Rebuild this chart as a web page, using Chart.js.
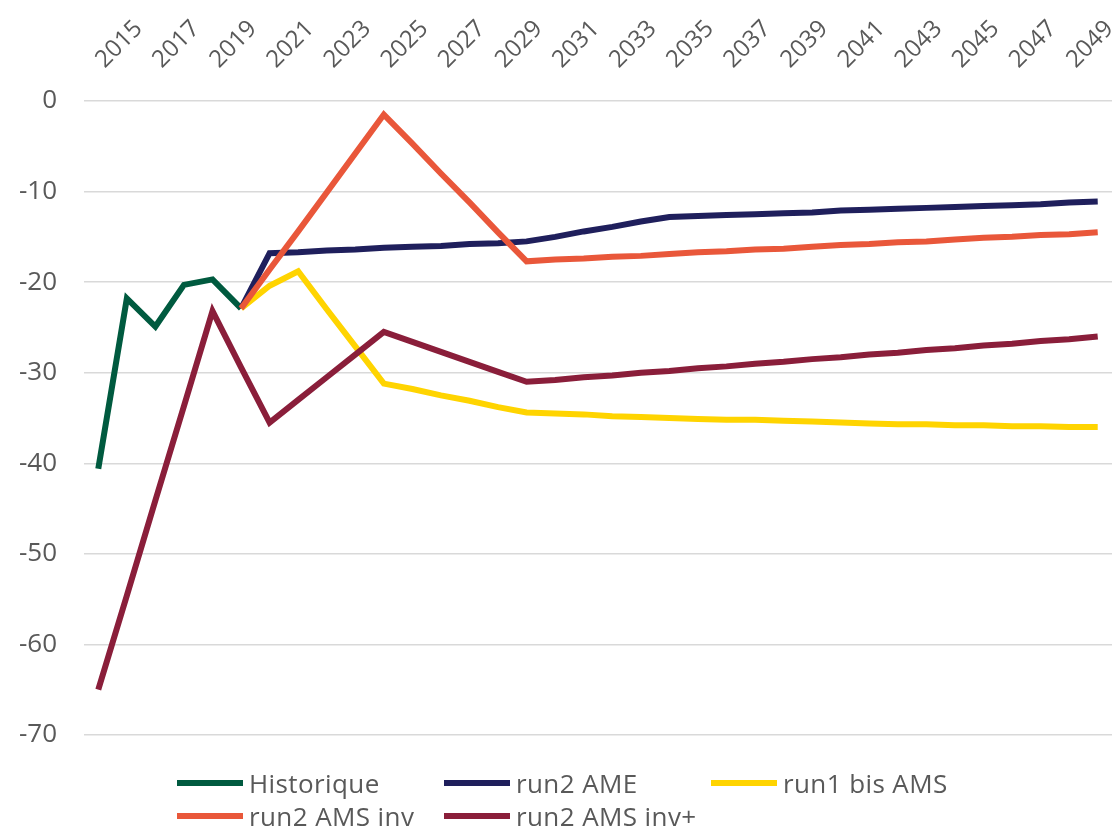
<!DOCTYPE html>
<html><head><meta charset="utf-8">
<script src="https://cdn.jsdelivr.net/npm/chart.js@4"></script>
<style>
html,body{margin:0;padding:0;background:#fff;overflow:hidden}
#wrap{position:relative;width:1117px;height:826px}
#c{position:absolute;left:0;top:0}
.lg{position:absolute;font-family:'Open Sans',sans-serif;font-size:26px;color:#595959;white-space:nowrap;display:flex;align-items:center;height:30px;line-height:30px;letter-spacing:0.4px}
.lg i{display:inline-block;width:66px;height:6px;margin-right:6px}
</style></head><body>
<div id="wrap"><canvas id="c" width="1117" height="826"></canvas><div id="legend"></div></div>
<script>
const years = [2015,2016,2017,2018,2019,2020,2021,2022,2023,2024,2025,2026,2027,2028,2029,2030,2031,2032,2033,2034,2035,2036,2037,2038,2039,2040,2041,2042,2043,2044,2045,2046,2047,2048,2049,2050];
const seriesNames = ['Historique','run2 AME','run1 bis AMS','run2 AMS inv','run2 AMS inv+'];
const historique = [-40.6,-21.8,-24.9,-20.3,-19.7,-22.9,null,null,null,null,null,null,null,null,null,null,null,null,null,null,null,null,null,null,null,null,null,null,null,null,null,null,null,null,null,null];
const run2AME = [null,null,null,null,null,-22.9,-16.8,-16.7,-16.5,-16.4,-16.2,-16.1,-16.0,-15.8,-15.7,-15.5,-15.0,-14.4,-13.9,-13.3,-12.8,-12.7,-12.6,-12.5,-12.4,-12.3,-12.1,-12.0,-11.9,-11.8,-11.7,-11.6,-11.5,-11.4,-11.2,-11.1];
const run1bisAMS = [null,null,null,null,null,-22.9,-20.4,-18.8,-23.0,-27.1,-31.2,-31.8,-32.5,-33.1,-33.8,-34.4,-34.5,-34.6,-34.8,-34.9,-35.0,-35.1,-35.2,-35.2,-35.3,-35.4,-35.5,-35.6,-35.7,-35.7,-35.8,-35.8,-35.9,-35.9,-36.0,-36.0];
const run2AMSinv = [null,null,null,null,null,-22.9,-18.6,-14.4,-10.1,-5.8,-1.5,-4.7,-8.0,-11.2,-14.5,-17.7,-17.5,-17.4,-17.2,-17.1,-16.9,-16.7,-16.6,-16.4,-16.3,-16.1,-15.9,-15.8,-15.6,-15.5,-15.3,-15.1,-15.0,-14.8,-14.7,-14.5];
const run2AMSinvPlus = [-65.0,-54.6,-44.1,-33.7,-23.2,-29.4,-35.5,-33.0,-30.5,-28.0,-25.5,-26.6,-27.7,-28.8,-29.9,-31.0,-30.8,-30.5,-30.3,-30.0,-29.8,-29.5,-29.3,-29.0,-28.8,-28.5,-28.3,-28.0,-27.8,-27.5,-27.3,-27.0,-26.8,-26.5,-26.3,-26.0];
const yTicks = [0,-10,-20,-30,-40,-50,-60,-70];

const colors = ['#005a3f','#1f1f5c','#ffd400','#e9573a','#8a1e3a'];
const allData = [historique, run2AME, run1bisAMS, run2AMSinv, run2AMSinvPlus];
const FONT = "'Open Sans', sans-serif";
const TXT = '#595959';

const datasets = allData.map((d, i) => ({
  label: seriesNames[i], data: d, borderColor: colors[i], backgroundColor: colors[i],
  borderWidth: 6, pointRadius: 0, tension: 0, fill: false, spanGaps: false,
  borderCapStyle: 'butt', borderJoinStyle: 'miter', order: allData.length - i, clip: false
}));

new Chart(document.getElementById('c'), {
  type: 'line',
  data: { labels: years.map(String), datasets },
  options: {
    responsive: false, animation: false, devicePixelRatio: 1,
    layout: { padding: { left: 0, right: 5, top: 0, bottom: 91 } },
    plugins: { legend: { display: false }, tooltip: { enabled: false } },
    scales: {
      x: {
        type: 'category', position: 'top', offset: true,
        grid: { display: false, drawTicks: false }, border: { display: false },
        ticks: {
          autoSkip: false, minRotation: 45, maxRotation: 45, padding: 27, labelOffset: 22,
          color: TXT, font: { family: FONT, size: 24 },
          callback: function(v, i) { return i % 2 === 0 ? this.getLabelForValue(v) : ''; }
        },
        afterFit: s => { s.height = 101; s.paddingLeft = 0; s.paddingRight = 0; }
      },
      y: {
        min: -70, max: 0,
        afterBuildTicks: s => { s.ticks = yTicks.map(v => ({ value: v })); },
        grid: { color: '#d9d9d9', lineWidth: 1.5, drawTicks: false }, border: { display: false },
        ticks: { padding: 27, color: TXT, font: { family: FONT, size: 26 } },
        afterFit: s => { s.width = 84; s.paddingTop = 0; s.paddingBottom = 0; }
      }
    }
  }
});

const leg = document.getElementById('legend');
const pos = [[177,768],[444,768],[711,768],[177,801],[444,801]];
seriesNames.forEach((n, i) => {
  const el = document.createElement('div');
  el.className = 'lg';
  el.style.left = pos[i][0] + 'px'; el.style.top = pos[i][1] + 'px';
  el.innerHTML = '<i style="background:' + colors[i] + '"></i><span></span>';
  el.querySelector('span').textContent = n;
  leg.appendChild(el);
});
</script>
</body></html>
